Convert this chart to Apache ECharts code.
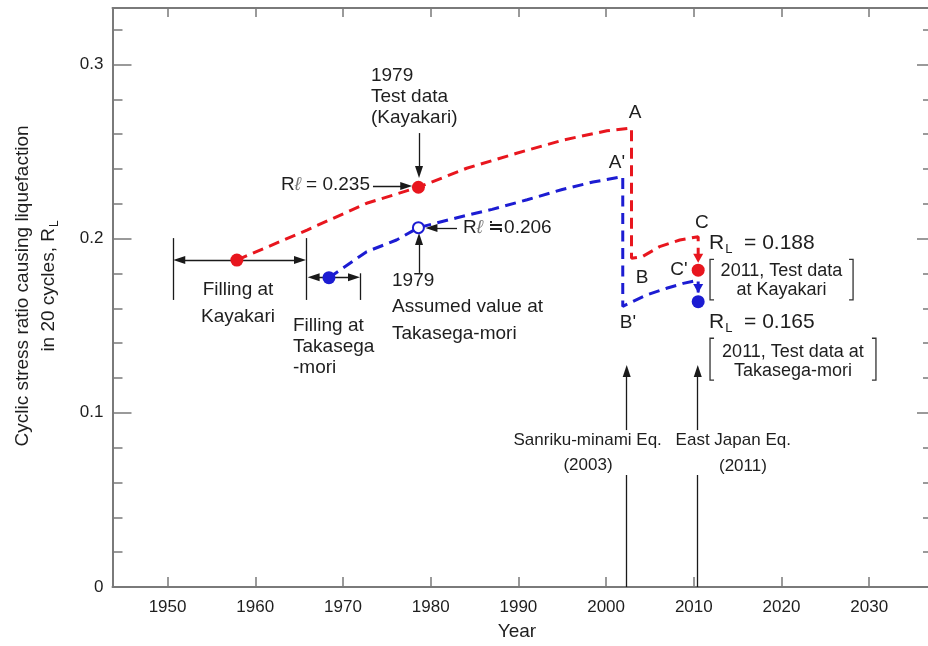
<!DOCTYPE html>
<html><head><meta charset="utf-8">
<script src="https://cdn.jsdelivr.net/npm/echarts@6/dist/echarts.min.js"></script>
<style>html,body{margin:0;padding:0;background:#fff}#c{width:928px;height:646px}</style>
</head><body><div id="c"></div>
<script>
// ---------------- data ----------------
const xTickValues = [1950,1960,1970,1980,1990,2000,2010,2020,2030];
const yMajorTicks = [0,0.1,0.2,0.3];
const yMinorTicks = [0,0.02,0.04,0.06,0.08,0.1,0.12,0.14,0.16,0.18,0.2,0.22,0.24,0.26,0.28,0.3,0.32];

// Kayakari (red) path: filling -> 1979 test -> A -> B -> C -> 2011 test
const kayakariPath = [
  [1957.9,0.1877],[1965.9,0.2049],[1972.7,0.2203],[1978.6,0.2295],[1984.1,0.2404],
  [1989.8,0.2490],[1995.1,0.2566],[2000.1,0.2619],[2002.9,0.2635],
  [2002.9,0.1887],[2004.1,0.1896],[2006.1,0.1954],[2008.4,0.1992],[2010.5,0.2011],
  [2010.5,0.1819]
];
// Takasega-mori (blue) path: filling -> 1979 assumed -> A' -> B' -> C' -> 2011 test
const takasegaPath = [
  [1968.4,0.1776],[1972.7,0.1925],[1976.1,0.1992],[1978.6,0.2063],[1983.0,0.2120],
  [1987.0,0.2168],[1991.0,0.2223],[1995.0,0.2282],[1998.5,0.2325],[2001.9,0.2356],
  [2001.9,0.1611],[2004.6,0.1676],[2006.9,0.1715],[2008.8,0.1743],[2010.5,0.1762],
  [2010.5,0.1638]
];
const kayakariPoints = [[1957.9,0.1877],[1978.6,0.2295],[2010.5,0.1819]];
const takasegaPoints = [[1968.4,0.1776],[2010.5,0.1638]];
const takasegaAssumed = [[1978.6,0.2063]];

// earthquakes (x position in the figure)
const quakeYears = [2002.35, 2010.45];
const quakeLower = [0, 0.0643];      // line from axis up to the label gap
const quakeUpper = [0.0901, 0.1274]; // line from label gap up to arrow tip

// construction periods (double arrows) and their end bars
const fillingKayakari = [1950.65, 1965.78, 0.1877];
const fillingTakasega = [1965.97, 1971.94, 0.1778];
const fillingBars = [[1950.65,0.2003,0.1648],[1965.78,0.2003,0.1648],[1971.94,0.1801,0.1648]];

// pointer arrows [from, tip]
const pointerArrows = [
  [[1973.42,0.2302],[1977.9,0.2302]],
  [[1978.67,0.2606],[1978.67,0.2348]],
  [[1983.0,0.2061],[1979.4,0.2061]],
  [[1978.67,0.1803],[1978.67,0.2032]]
];
// coloured arrow heads on the 2011 drops [x, tip value]
const kayakariDropTip = [2010.5, 0.1862];
const takasegaDropTip = [2010.5, 0.1688];

// ---------------- layout / style ----------------
const X_MIN = 1943.72, X_MAX = 2037.16, Y_MIN = 0, Y_MAX = 0.3324;
const FONT = "'Liberation Sans', Arial, Helvetica, sans-serif";
const RED = '#e8161e', BLUE = '#1c1cd2', INK = '#1e1e1e', AXIS = '#7a7a7a';

const notes = [
  {t:'1979\nTest data\n(Kayakari)', at:[1973.19,0.2813], align:'left', size:19, lh:21},
  {t:'1979\nAssumed value at\nTakasega-mori', at:[1975.59,0.1607], align:'left', size:19, lh:26.5},
  {t:'Filling at\nKayakari', at:[1958.03,0.1627], align:'center', size:19, lh:27},
  {t:'Filling at\nTakasega\n-mori', at:[1964.30,0.1381], align:'left', size:19, lh:21},
  {t:'A', at:[2003.31,0.2721], align:'center', size:19},
  {t:"A'", at:[2001.24,0.2434], align:'center', size:19},
  {t:'B', at:[2004.09,0.1774], align:'center', size:19},
  {t:"B'", at:[2002.49,0.1515], align:'center', size:19},
  {t:'C', at:[2010.93,0.2090], align:'center', size:19},
  {t:"C'", at:[2008.30,0.1820], align:'center', size:19},
  {t:'2011, Test data\nat Kayakari', at:[2020.0,0.1758], align:'center', size:18, lh:18.5},
  {t:'2011, Test data at\nTakasega-mori', at:[2021.31,0.1296], align:'center', size:18, lh:19},
  {t:'Sanriku-minami Eq.', at:[1997.9,0.0844], align:'center', size:17},
  {t:'(2003)', at:[1997.94,0.0700], align:'center', size:17},
  {t:'East Japan Eq.', at:[2014.5,0.0844], align:'center', size:17},
  {t:'(2011)', at:[2015.6,0.0695], align:'center', size:17}
];
const richNotes = [
  {t:'{n|R}{l|ℓ}{n| = 0.235}', at:[1973.08,0.2308], align:'right'},
  {t:'{n|R}{l|ℓ}{n| ≒0.206}', at:[1983.68,0.2061], align:'left'},
  {t:'{b|R}{s|L}{b|  = 0.188}', at:[2011.73,0.1973], align:'left'},
  {t:'{b|R}{s|L}{b|  = 0.165}', at:[2011.73,0.1523], align:'left'}
];
const brackets = [
  {x0:2011.85, x1:2028.16, top:0.1881, bottom:0.1648},
  {x0:2011.85, x1:2030.77, top:0.1428, bottom:0.1188}
];

const chart = echarts.init(document.getElementById('c'), null, {renderer:'canvas', width:928, height:646});

function xAx(pos, showLabel, len) {
  return {
    type:'value', min:X_MIN, max:X_MAX, position:pos,
    axisLine:{show:true, onZero:false, lineStyle:{color:AXIS, width:2}},
    axisTick:{show:true, inside:true, length:len, customValues:xTickValues, lineStyle:{color:AXIS, width:1.5}},
    axisLabel:{show:showLabel, customValues:xTickValues, margin:12, color:INK, fontSize:17, fontFamily:FONT,
               formatter:v => String(Math.round(v))},
    splitLine:{show:false}
  };
}
function yAx(pos, ticks, len, showLabel, showLine) {
  return {
    type:'value', min:Y_MIN, max:Y_MAX, position:pos,
    axisLine:{show:showLine, onZero:false, lineStyle:{color:AXIS, width:2}},
    axisTick:{show:true, inside:true, length:len, customValues:ticks, lineStyle:{color:AXIS, width:1.5}},
    axisLabel:{show:showLabel, customValues:yMajorTicks, margin:9, color:INK, fontSize:17, fontFamily:FONT,
               formatter:v => (Math.abs(v) < 1e-9 ? '0' : (Math.round(v*10)/10).toFixed(1))},
    splitLine:{show:false}
  };
}

const dashed = c => ({color:c, width:3, type:[11,6.5]});

chart.setOption({
  animation:false,
  backgroundColor:'#fff',
  grid:{left:112.5, right:-4, top:8, bottom:59, containLabel:false, outerBoundsMode:'none'},
  xAxis:[xAx('bottom', true, 10), xAx('top', false, 9)],
  yAxis:[
    yAx('left', yMinorTicks, 10, true, true),
    yAx('left', yMajorTicks, 19, false, false),
    yAx('right', yMinorTicks, 9, false, true),
    yAx('right', yMajorTicks, 15, false, false)
  ],
  series:[
    {id:'kay', type:'line', data:kayakariPath, symbol:'none', lineStyle:dashed(RED), z:3, silent:true},
    {id:'tak', type:'line', data:takasegaPath, symbol:'none', lineStyle:dashed(BLUE), z:3, silent:true},
    {id:'kayP', type:'scatter', data:kayakariPoints, symbol:'circle', symbolSize:13, itemStyle:{color:RED, opacity:1}, z:5, silent:true},
    {id:'takP', type:'scatter', data:takasegaPoints, symbol:'circle', symbolSize:13, itemStyle:{color:BLUE, opacity:1}, z:5, silent:true},
    {id:'takA', type:'scatter', data:takasegaAssumed, symbol:'circle', symbolSize:11,
     itemStyle:{color:'#fff', borderColor:BLUE, borderWidth:2, opacity:1}, z:5, silent:true}
  ]
});

// ---------- second pass: annotation arrows and texts, positioned through the axes ----------
const toPx = c => chart.convertToPixel({seriesIndex:0}, c);
const fromPx = p => chart.convertFromPixel({seriesIndex:0}, p);

function arrow(from, tip, opt) {
  opt = opt || {};
  const size = opt.size || [8, 12];
  const color = opt.color || '#1a1a1a';
  const a = toPx(from), b = toPx(tip);
  const dx = b[0]-a[0], dy = b[1]-a[1], L = Math.hypot(dx, dy) || 1;
  const ux = dx/L, uy = dy/L, h = size[1]/2;
  const headEnd = opt.head === false ? b : [b[0]-ux*h, b[1]-uy*h];
  const headStart = opt.both ? [a[0]+ux*h, a[1]+uy*h] : a;
  const ls = {color:color, width:opt.width || 1.3, type:'solid', opacity:1};
  return [
    {coord:fromPx(headStart), symbol:opt.both ? 'triangle' : 'none', symbolSize:size, lineStyle:ls},
    {coord:fromPx(headEnd), symbol:opt.head === false ? 'none' : 'triangle', symbolSize:size, lineStyle:ls}
  ];
}

const ml = [];
pointerArrows.forEach(p => ml.push(arrow(p[0], p[1])));
ml.push(arrow([fillingKayakari[0], fillingKayakari[2]], [fillingKayakari[1], fillingKayakari[2]], {both:true}));
ml.push(arrow([fillingTakasega[0], fillingTakasega[2]], [fillingTakasega[1], fillingTakasega[2]], {both:true}));
fillingBars.forEach(b => ml.push(arrow([b[0], b[1]], [b[0], b[2]], {head:false})));
quakeYears.forEach(x => {
  ml.push(arrow([x, quakeLower[0]], [x, quakeLower[1]], {head:false}));
  ml.push(arrow([x, quakeUpper[0]], [x, quakeUpper[1]]));
});
ml.push(arrow([kayakariDropTip[0], kayakariDropTip[1] + 0.0035], kayakariDropTip, {color:RED, size:[10,9], width:3}));
ml.push(arrow([takasegaDropTip[0], takasegaDropTip[1] + 0.0035], takasegaDropTip, {color:BLUE, size:[10,9], width:3}));

const graphics = [];
notes.forEach(n => {
  const p = toPx(n.at);
  graphics.push({type:'text', x:p[0], y:p[1], silent:true, z:20, style:{
    text:n.t, fill:INK, fontSize:n.size, fontFamily:FONT, align:n.align, verticalAlign:'middle',
    lineHeight:n.lh || n.size + 2
  }});
});
richNotes.forEach(n => {
  const p = toPx(n.at);
  graphics.push({type:'text', x:p[0], y:p[1], silent:true, z:20, style:{
    text:n.t, align:n.align, verticalAlign:'middle', fill:INK, fontFamily:FONT,
    rich:{
      n:{fontSize:19, fontFamily:FONT, fill:INK, lineHeight:24},
      l:{fontSize:19, fontFamily:FONT, fill:'#777', fontStyle:'italic', lineHeight:24},
      b:{fontSize:21, fontFamily:FONT, fill:INK, lineHeight:26},
      s:{fontSize:13, fontFamily:FONT, fill:INK, lineHeight:13, padding:[13,0,0,1]}
    }
  }});
});
brackets.forEach(b => {
  const tl = toPx([b.x0, b.top]), br = toPx([b.x1, b.bottom]);
  const st = {stroke:'#333', lineWidth:1.3, fill:null};
  graphics.push({type:'polyline', silent:true, z:20, shape:{points:[[tl[0]+4, tl[1]],[tl[0], tl[1]],[tl[0], br[1]],[tl[0]+4, br[1]]]}, style:st});
  graphics.push({type:'polyline', silent:true, z:20, shape:{points:[[br[0]-4, tl[1]],[br[0], tl[1]],[br[0], br[1]],[br[0]-4, br[1]]]}, style:st});
});
// axis titles
graphics.push({type:'text', x:36, y:286, rotation:Math.PI/2, silent:true, z:20, style:{
  text:'{t|Cyclic stress ratio causing liquefaction}\n{t|in 20 cycles, R}{s|L}',
  align:'center', verticalAlign:'middle', fill:INK, fontFamily:FONT,
  rich:{t:{fontSize:19, fontFamily:FONT, fill:INK, lineHeight:26}, s:{fontSize:12, fontFamily:FONT, fill:INK, lineHeight:12, padding:[12,0,0,1]}}
}});
graphics.push({type:'text', x:517, y:632, silent:true, z:20, style:{
  text:'Year', fill:INK, fontSize:19, fontFamily:FONT, align:'center', verticalAlign:'middle'
}});

chart.setOption({
  series:[{id:'notes', type:'line', data:[], silent:true, z:6,
    markLine:{silent:true, symbol:['none','none'], label:{show:false}, emphasis:{disabled:true},
      lineStyle:{color:'#1a1a1a', width:1.3, type:'solid'}, data:ml, animation:false}}],
  graphic:graphics
});
</script>
</body></html>
